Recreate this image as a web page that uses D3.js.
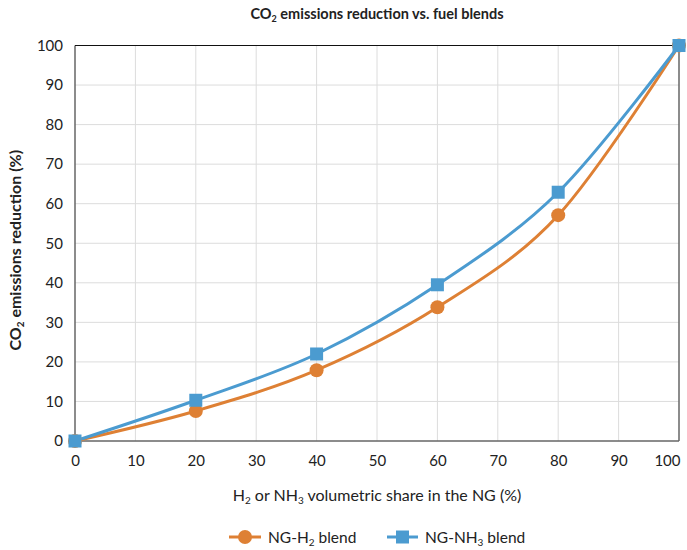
<!DOCTYPE html>
<html><head><meta charset="utf-8">
<script src="https://cdn.jsdelivr.net/npm/d3@7"></script>
<style>body{margin:0;background:#fff;} text{font-family:Lato,"Open Sans",sans-serif;fill:#222;}</style>
</head><body><svg id="c" width="687" height="550"></svg>
<script>
const xValues = [0, 20, 40, 60, 80, 100];
const h2Values = [0, 7.6, 17.9, 33.8, 57.1, 100];
const nh3Values = [0, 10.3, 22.0, 39.5, 62.9, 100];
const xTicks = [0,10,20,30,40,50,60,70,80,90,100];
const yTicks = [0,10,20,30,40,50,60,70,80,90,100];
const seriesNames = [["NG-H", "2", " blend"], ["NG-NH", "3", " blend"]];

const svg = d3.select("#c");
const x = d3.scaleLinear().domain([0,100]).range([75, 679]);
const y = d3.scaleLinear().domain([0,100]).range([441, 45.5]);
const orange = "#de8034", blue = "#4b9bd0";

// grid
svg.append("g").selectAll("line").data(xTicks.slice(1,-1)).join("line")
  .attr("x1", d=>x(d)).attr("x2", d=>x(d)).attr("y1", y(0)).attr("y2", y(100))
  .attr("stroke", "#dcdcdc").attr("stroke-width", 1);
svg.append("g").selectAll("line").data(yTicks.slice(1,-1)).join("line")
  .attr("x1", x(0)).attr("x2", x(100)).attr("y1", d=>y(d)).attr("y2", d=>y(d))
  .attr("stroke", "#dcdcdc").attr("stroke-width", 1);
// frame
svg.append("line").attr("x1", x(0)).attr("x2", x(100)).attr("y1", y(0)).attr("y2", y(0)).attr("stroke","#666").attr("stroke-width",1.5);
svg.append("line").attr("x1", x(0)).attr("x2", x(0)).attr("y1", y(0)).attr("y2", y(100)).attr("stroke","#666").attr("stroke-width",1.5);
svg.append("line").attr("x1", x(100)).attr("x2", x(100)).attr("y1", y(0)).attr("y2", y(100)).attr("stroke","#666").attr("stroke-width",1.5);
svg.append("line").attr("x1", x(0)).attr("x2", x(100)).attr("y1", y(100)).attr("y2", y(100)).attr("stroke","#111").attr("stroke-width",1.2);

// axes labels
const xa = svg.append("g").attr("transform", `translate(0,${y(0)})`)
  .call(d3.axisBottom(x).tickValues(xTicks).tickSize(0).tickPadding(14));
xa.select(".domain").remove();
xa.selectAll("text").attr("font-size", 15).attr("fill","#333").style("font-family","Lato,sans-serif");
xa.selectAll(".tick").filter(d=>d===100).select("text").attr("text-anchor","end").attr("x", 1);
const ya = svg.append("g").attr("transform", `translate(${x(0)},0)`)
  .call(d3.axisLeft(y).tickValues(yTicks).tickSize(0).tickPadding(12));
ya.select(".domain").remove();
ya.selectAll("text").attr("font-size", 15).attr("fill","#333").style("font-family","Lato,sans-serif");

// title
const t = svg.append("text").attr("x", 377).attr("y", 19).attr("text-anchor","middle").attr("font-size", 14.5).attr("font-weight", 700);
t.append("tspan").text("CO");
t.append("tspan").text("2").attr("font-size", 9).attr("dy", 3);
t.append("tspan").text(" emissions reduction vs. fuel blends").attr("dy", -3);

// y title
const yt = svg.append("text").attr("transform", `translate(21,${(y(0)+y(100))/2 + 7}) rotate(-90)`)
  .attr("text-anchor","middle").attr("font-size", 16).attr("font-weight", 700);
yt.append("tspan").text("CO");
yt.append("tspan").text("2").attr("font-size", 10).attr("dy", 3);
yt.append("tspan").text(" emissions reduction (%)").attr("dy", -3);

// x title
const xt = svg.append("text").attr("x", 377).attr("y", 501).attr("text-anchor","middle").attr("font-size", 16).attr("font-weight", 400);
xt.append("tspan").text("H");
xt.append("tspan").text("2").attr("font-size", 10).attr("dy", 3);
xt.append("tspan").text(" or NH").attr("dy", -3);
xt.append("tspan").text("3").attr("font-size", 10).attr("dy", 3);
xt.append("tspan").text(" volumetric share in the NG (%)").attr("dy", -3);

// lines
const line = d3.line().x(d=>x(d[0])).y(d=>y(d[1])).curve(d3.curveCardinal.tension(0));
const h2 = xValues.map((v,i)=>[v, h2Values[i]]);
const nh3 = xValues.map((v,i)=>[v, nh3Values[i]]);
svg.append("path").datum(h2).attr("d", line).attr("fill","none").attr("stroke", orange).attr("stroke-width", 3);
svg.append("path").datum(nh3).attr("d", line).attr("fill","none").attr("stroke", blue).attr("stroke-width", 3);
svg.append("g").selectAll("circle").data(h2).join("circle")
  .attr("cx", d=>x(d[0])).attr("cy", d=>y(d[1])).attr("r", 7).attr("fill", orange);
svg.append("g").selectAll("rect").data(nh3).join("rect")
  .attr("x", d=>x(d[0])-6.5).attr("y", d=>y(d[1])-6.5).attr("width", 13).attr("height", 13).attr("fill", blue);

// legend
const lg = svg.append("g");
lg.append("line").attr("x1",229).attr("x2",261).attr("y1",537).attr("y2",537).attr("stroke",orange).attr("stroke-width",3);
lg.append("circle").attr("cx",245).attr("cy",537).attr("r",7).attr("fill",orange);
const l1 = lg.append("text").attr("x",268).attr("y",542.5).attr("font-size",15.5);
l1.append("tspan").text(seriesNames[0][0]);
l1.append("tspan").text(seriesNames[0][1]).attr("font-size",10).attr("dy",3);
l1.append("tspan").text(seriesNames[0][2]).attr("dy",-3);
lg.append("line").attr("x1",387).attr("x2",418).attr("y1",537).attr("y2",537).attr("stroke",blue).attr("stroke-width",3);
lg.append("rect").attr("x",396).attr("y",530.5).attr("width",13).attr("height",13).attr("fill",blue);
const l2 = lg.append("text").attr("x",425).attr("y",542.5).attr("font-size",15.5);
l2.append("tspan").text(seriesNames[1][0]);
l2.append("tspan").text(seriesNames[1][1]).attr("font-size",10).attr("dy",3);
l2.append("tspan").text(seriesNames[1][2]).attr("dy",-3);
</script></body></html>
